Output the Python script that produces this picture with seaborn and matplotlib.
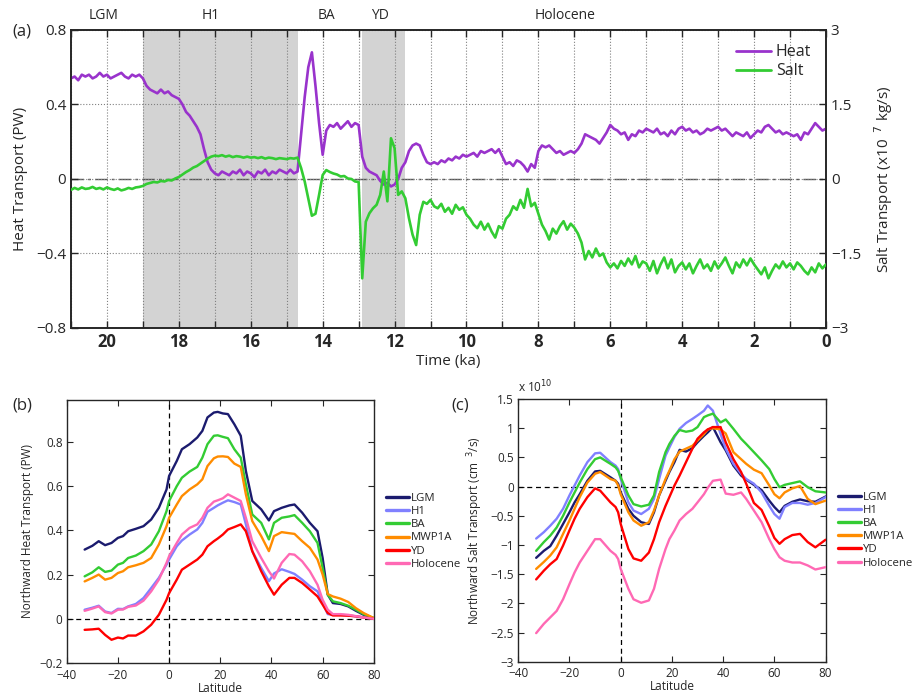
import matplotlib
matplotlib.use("Agg")
import matplotlib.pyplot as plt
from matplotlib.ticker import MultipleLocator
from matplotlib.lines import Line2D
import numpy as np
import pandas as pd
import seaborn as sns

# ---- panel (a): transport time series, 21 ka -> 0 ka, 0.1 ka steps ----
time_ka = np.round(np.arange(210, -1, -1) / 10.0, 1)

heat_pw = [
    0.54, 0.55, 0.53, 0.56, 0.55, 0.56, 0.54, 0.55, 0.57, 0.55,   # 21.0-20.1
    0.56, 0.54, 0.55, 0.56, 0.57, 0.55, 0.54, 0.56, 0.55, 0.56,   # 20.0-19.1
    0.54, 0.50, 0.48, 0.47, 0.46, 0.48, 0.46, 0.47, 0.45, 0.44,   # 19.0-18.1
    0.43, 0.40, 0.36, 0.34, 0.31, 0.28, 0.24, 0.16, 0.09, 0.05,   # 18.0-17.1
    0.03, 0.02, 0.04, 0.03, 0.02, 0.04, 0.03, 0.05, 0.02, 0.04,   # 17.0-16.1
    0.03, 0.01, 0.04, 0.03, 0.05, 0.02, 0.04, 0.03, 0.05, 0.04,   # 16.0-15.1
    0.03, 0.05, 0.03, 0.04, 0.24, 0.44, 0.60, 0.68, 0.50, 0.30,   # 15.0-14.1
    0.13, 0.26, 0.29, 0.28, 0.30, 0.27, 0.29, 0.31, 0.28, 0.30,   # 14.0-13.1
    0.29, 0.12, 0.06, 0.04, 0.03, 0.02, -0.01, -0.03, -0.02, -0.04,  # 13.0-12.1
    -0.03, 0.00, 0.06, 0.09, 0.15, 0.18, 0.19, 0.18, 0.13, 0.09,  # 12.0-11.1
    0.08, 0.09, 0.08, 0.10, 0.09, 0.11, 0.10, 0.12, 0.11, 0.13,   # 11.0-10.1
    0.12, 0.13, 0.14, 0.12, 0.15, 0.14, 0.15, 0.16, 0.14, 0.16,   # 10.0-9.1
    0.12, 0.08, 0.09, 0.07, 0.10, 0.09, 0.07, 0.04, 0.08, 0.06,   # 9.0-8.1
    0.15, 0.18, 0.17, 0.18, 0.16, 0.14, 0.15, 0.13, 0.14, 0.15,   # 8.0-7.1
    0.14, 0.16, 0.19, 0.24, 0.23, 0.22, 0.21, 0.19, 0.22, 0.25,   # 7.0-6.1
    0.29, 0.27, 0.26, 0.24, 0.25, 0.21, 0.24, 0.23, 0.26, 0.25,   # 6.0-5.1
    0.27, 0.26, 0.25, 0.27, 0.24, 0.25, 0.23, 0.26, 0.24, 0.27,   # 5.0-4.1
    0.28, 0.26, 0.27, 0.25, 0.26, 0.24, 0.25, 0.27, 0.26, 0.27,   # 4.0-3.1
    0.28, 0.26, 0.27, 0.25, 0.23, 0.25, 0.24, 0.23, 0.25, 0.22,   # 3.0-2.1
    0.24, 0.26, 0.25, 0.28, 0.29, 0.27, 0.25, 0.26, 0.24, 0.25,   # 2.0-1.1
    0.24, 0.23, 0.24, 0.21, 0.25, 0.24, 0.27, 0.30, 0.28, 0.26,   # 1.0-0.1
    0.27,                                                         # 0.0
]

salt_e7 = [
    -0.22, -0.18, -0.21, -0.17, -0.20, -0.19, -0.16, -0.20, -0.18, -0.21,  # 21.0-20.1
    -0.17, -0.20, -0.22, -0.19, -0.23, -0.21, -0.18, -0.20, -0.17, -0.16,  # 20.0-19.1
    -0.14, -0.10, -0.08, -0.06, -0.07, -0.04, -0.05, -0.02, -0.03, 0.01,   # 19.0-18.1
    0.04, 0.09, 0.14, 0.18, 0.23, 0.26, 0.31, 0.36, 0.41, 0.45,            # 18.0-17.1
    0.47, 0.46, 0.48, 0.45, 0.47, 0.44, 0.46, 0.45, 0.43, 0.45,            # 17.0-16.1
    0.43, 0.44, 0.42, 0.44, 0.41, 0.43, 0.42, 0.40, 0.42, 0.41,            # 16.0-15.1
    0.40, 0.42, 0.41, 0.43, 0.22, -0.05, -0.39, -0.74, -0.70, -0.32,       # 15.0-14.1
    0.08, 0.18, 0.14, 0.11, 0.09, 0.05, 0.06, 0.01, 0.00, -0.05,           # 14.0-13.1
    -0.06, -2.00, -0.86, -0.69, -0.59, -0.52, -0.32, 0.15, -0.45, 0.82,    # 13.0-12.1
    0.62, -0.32, -0.25, -0.39, -0.79, -1.12, -1.33, -0.72, -0.46, -0.50,   # 12.0-11.1
    -0.42, -0.55, -0.59, -0.50, -0.66, -0.58, -0.70, -0.52, -0.62, -0.57,  # 11.0-10.1
    -0.72, -0.80, -0.92, -0.99, -0.86, -1.02, -0.90, -1.06, -1.18, -0.95,  # 10.0-9.1
    -1.00, -0.80, -0.72, -0.55, -0.62, -0.42, -0.58, -0.20, -0.55, -0.48,  # 9.0-8.1
    -0.70, -0.92, -1.05, -1.22, -1.00, -1.10, -0.95, -0.85, -1.02, -0.90,  # 8.0-7.1
    -0.98, -1.10, -1.28, -1.62, -1.45, -1.58, -1.40, -1.55, -1.50, -1.68,  # 7.0-6.1
    -1.78, -1.70, -1.80, -1.65, -1.75, -1.60, -1.72, -1.55, -1.78, -1.66,  # 6.0-5.1
    -1.70, -1.85, -1.65, -1.90, -1.72, -1.58, -1.80, -1.62, -1.88, -1.75,  # 5.0-4.1
    -1.68, -1.82, -1.70, -1.90, -1.75, -1.62, -1.80, -1.72, -1.85, -1.66,  # 4.0-3.1
    -1.80, -1.70, -1.58, -1.75, -1.90, -1.68, -1.78, -1.62, -1.74, -1.60,  # 3.0-2.1
    -1.72, -1.82, -1.92, -1.78, -2.00, -1.85, -1.72, -1.80, -1.66, -1.78,  # 2.0-1.1
    -1.70, -1.82, -1.68, -1.75, -1.85, -1.92, -1.78, -1.88, -1.70, -1.80,  # 1.0-0.1
    -1.72,                                                                 # 0.0
]

period_names = ["LGM", "H1", "BA", "YD", "Holocene"]
period_centers = [20.1, 17.1, 13.9, 12.4, 7.25]
h1_span = (19.0, 14.7)
yd_span = (12.9, 11.7)

# ---- panel (b): northward heat transport (PW) vs latitude ----
lat_b = [-33, -30, -27.5, -25, -22.5, -20, -18, -16, -13, -10,
         -7, -4, -1, 0,
         3, 5, 8, 11, 13, 15, 17.5, 19, 21, 23, 25.5, 28, 30, 32.5,
         36, 39, 41, 44, 47, 49, 52, 55, 58, 60, 62, 64, 67, 70, 73, 76, 80]

lgm_heat = [0.313, 0.33, 0.351, 0.333, 0.343, 0.366, 0.374, 0.396, 0.407, 0.419,
            0.449, 0.502, 0.585, 0.646,
            0.714, 0.767, 0.79, 0.82, 0.85, 0.911, 0.933, 0.936, 0.929, 0.926, 0.88, 0.828, 0.669, 0.533,
            0.495, 0.445, 0.487, 0.502, 0.513, 0.517, 0.48, 0.434, 0.396, 0.275, 0.109, 0.071, 0.067, 0.056, 0.036, 0.018, 0.003]
h1_heat = [0.041, 0.05, 0.059, 0.033, 0.026, 0.045, 0.044, 0.056, 0.067, 0.094,
           0.139, 0.185, 0.245, 0.268,
           0.328, 0.354, 0.381, 0.404, 0.434, 0.484, 0.502, 0.513, 0.525, 0.536, 0.528, 0.517, 0.427, 0.306,
           0.23, 0.17, 0.205, 0.224, 0.212, 0.203, 0.177, 0.147, 0.124, 0.071, 0.021, 0.018, 0.018, 0.015, 0.011, 0.006, 0.0]
ba_heat = [0.192, 0.21, 0.233, 0.212, 0.218, 0.245, 0.253, 0.275, 0.286, 0.306,
           0.336, 0.396, 0.487, 0.533,
           0.60, 0.638, 0.666, 0.687, 0.729, 0.79, 0.828, 0.83, 0.823, 0.817, 0.767, 0.729, 0.608, 0.472,
           0.434, 0.359, 0.434, 0.457, 0.463, 0.469, 0.434, 0.396, 0.343, 0.23, 0.109, 0.079, 0.071, 0.059, 0.041, 0.021, 0.003]
mwp_heat = [0.169, 0.185, 0.2, 0.177, 0.185, 0.207, 0.215, 0.233, 0.242, 0.253,
            0.275, 0.336, 0.419, 0.457,
            0.517, 0.555, 0.585, 0.608, 0.631, 0.691, 0.726, 0.734, 0.735, 0.732, 0.702, 0.687, 0.563, 0.442,
            0.374, 0.306, 0.374, 0.392, 0.387, 0.384, 0.351, 0.321, 0.268, 0.2, 0.112, 0.101, 0.091, 0.076, 0.048, 0.026, 0.003]
yd_heat = [-0.05, -0.048, -0.045, -0.073, -0.095, -0.085, -0.089, -0.076, -0.076, -0.057,
           -0.027, 0.018, 0.086, 0.116,
           0.177, 0.222, 0.245, 0.268, 0.29, 0.328, 0.351, 0.363, 0.381, 0.404, 0.415, 0.427, 0.396, 0.306,
           0.215, 0.147, 0.109, 0.154, 0.185, 0.185, 0.162, 0.132, 0.101, 0.064, 0.026, 0.015, 0.015, 0.014, 0.011, 0.006, 0.0]
hol_heat = [0.036, 0.046, 0.056, 0.03, 0.024, 0.041, 0.042, 0.054, 0.06, 0.082,
            0.124, 0.177, 0.253, 0.283,
            0.343, 0.381, 0.411, 0.427, 0.457, 0.502, 0.53, 0.536, 0.545, 0.563, 0.548, 0.533, 0.457, 0.351,
            0.275, 0.215, 0.182, 0.253, 0.293, 0.29, 0.26, 0.215, 0.154, 0.086, 0.041, 0.021, 0.021, 0.018, 0.012, 0.006, 0.0]

# ---- panel (c): northward salt transport (x1e10 cm^3/s) vs latitude ----
lat_c = [-33, -30, -27.5, -25, -22.5, -20, -18, -16, -13, -10,
         -8, -4, -2, -1, 0,
         3, 5, 8, 11, 13, 15, 17.5, 19, 21, 23, 25.5, 28, 30, 32.5, 34, 36,
         39, 41, 44, 47, 49, 52, 55, 58, 60, 62, 64, 67, 70, 73, 76, 80]

lgm_salt = [-1.22, -1.10, -1.02, -0.84, -0.64, -0.44, -0.27, -0.13, 0.10, 0.26,
            0.27, 0.16, 0.10, 0.05, -0.10,
            -0.38, -0.50, -0.61, -0.64, -0.44, -0.15, 0.10, 0.25, 0.42, 0.63, 0.60, 0.66, 0.76, 0.87, 0.93, 1.02,
            0.76, 0.62, 0.36, 0.19, 0.12, 0.03, -0.06, -0.24, -0.35, -0.44, -0.33, -0.26, -0.22, -0.25, -0.26, -0.17]
h1_salt = [-0.89, -0.78, -0.67, -0.55, -0.38, -0.15, 0.02, 0.19, 0.42, 0.57,
           0.58, 0.42, 0.36, 0.30, 0.13,
           -0.27, -0.41, -0.47, -0.38, -0.21, 0.13, 0.53, 0.67, 0.85, 0.99, 1.09, 1.16, 1.22, 1.30, 1.39, 1.30,
           0.90, 0.65, 0.39, 0.22, 0.13, 0.05, -0.10, -0.33, -0.47, -0.55, -0.35, -0.28, -0.28, -0.31, -0.28, -0.18]
ba_salt = [-1.10, -0.95, -0.84, -0.70, -0.50, -0.27, -0.10, 0.07, 0.30, 0.47,
           0.50, 0.39, 0.33, 0.27, 0.16,
           -0.15, -0.30, -0.34, -0.31, -0.15, 0.25, 0.59, 0.73, 0.87, 0.97, 0.94, 0.96, 1.02, 1.19, 1.22, 1.25,
           1.10, 1.15, 0.99, 0.82, 0.73, 0.59, 0.45, 0.30, 0.13, -0.01, 0.03, 0.06, 0.09, -0.01, -0.08, -0.10]
mwp_salt = [-1.41, -1.29, -1.18, -1.04, -0.81, -0.58, -0.38, -0.18, 0.07, 0.22,
            0.25, 0.13, 0.10, 0.02, -0.13,
            -0.44, -0.58, -0.67, -0.61, -0.41, -0.15, 0.13, 0.27, 0.47, 0.60, 0.65, 0.70, 0.79, 0.90, 0.98, 1.00,
            0.98, 0.91, 0.59, 0.47, 0.39, 0.29, 0.23, 0.02, -0.13, -0.20, -0.10, -0.03, 0.01, -0.21, -0.30, -0.24]
yd_salt = [-1.59, -1.44, -1.33, -1.24, -1.01, -0.75, -0.55, -0.38, -0.18, -0.03,
           -0.07, -0.27, -0.35, -0.44, -0.64,
           -1.07, -1.23, -1.27, -1.13, -0.90, -0.61, -0.33, -0.18, 0.02, 0.19, 0.42, 0.65, 0.82, 0.93, 0.98, 1.02,
           1.02, 0.76, 0.47, 0.25, 0.05, -0.28, -0.40, -0.68, -0.88, -0.98, -0.90, -0.83, -0.81, -0.95, -1.04, -0.91]
hol_salt = [-2.51, -2.35, -2.24, -2.13, -1.93, -1.67, -1.47, -1.30, -1.10, -0.90,
            -0.90, -1.10, -1.17, -1.24, -1.41,
            -1.75, -1.93, -1.99, -1.95, -1.75, -1.41, -1.07, -0.90, -0.75, -0.58, -0.47, -0.38, -0.27, -0.13, -0.02, 0.10,
            0.12, -0.12, -0.14, -0.10, -0.21, -0.41, -0.61, -0.90, -1.07, -1.21, -1.27, -1.30, -1.30, -1.35, -1.42, -1.38]

stage_order = ["LGM", "H1", "BA", "MWP1A", "YD", "Holocene"]
stage_colors = ["#1b1b6e", "#8080ff", "#33cc33", "#ff8c00", "#ff0000", "#ff69b4"]

heat_color = "#9933cc"
salt_color = "#33cc33"

sns.set_style("ticks")
plt.rcParams["font.family"] = ["Open Sans", "DejaVu Sans"]
plt.rcParams["axes.linewidth"] = 1.2

fig = plt.figure(figsize=(9.14, 6.94), dpi=100)

# ================= panel (a) =================
ax = fig.add_axes([0.0777, 0.5274, 0.826, 0.4294])
ax2 = ax.twinx()

for span in (h1_span, yd_span):
    ax.axvspan(span[0], span[1], color="#d3d3d3", lw=0, zorder=0)
ax.axhline(0, color="#555555", lw=1.0, ls=(0, (9, 3, 2, 3)), zorder=1)

sns.lineplot(x=time_ka, y=heat_pw, ax=ax, color=heat_color, lw=1.9,
             estimator=None, legend=False, zorder=3)
sns.lineplot(x=time_ka, y=salt_e7, ax=ax2, color=salt_color, lw=1.9,
             estimator=None, legend=False, zorder=3)

ax.set_xlim(21, 0)
ax.set_ylim(-0.8, 0.8)
ax2.set_ylim(-3, 3)
ax.xaxis.set_major_locator(MultipleLocator(2))
ax.xaxis.set_minor_locator(MultipleLocator(1))
ax.set_xticklabels([f"{v:g}" for v in ax.get_xticks()])
ax.set_yticks([-0.8, -0.4, 0, 0.4, 0.8])
ax.set_yticklabels(["\u22120.8", "\u22120.4", "0", "0.4", "0.8"], fontsize=11)
ax2.set_yticks([-3, -1.5, 0, 1.5, 3])
ax2.set_yticklabels(["\u22123", "\u22121.5", "0", "1.5", "3"], fontsize=11)
ax.set_xlim(21, 0)
for lbl in ax.get_xticklabels():
    lbl.set_fontsize(12)
    lbl.set_fontweight("bold")

ax.grid(which="both", axis="x", ls=":", color="#808080", lw=0.8)
ax.grid(which="major", axis="y", ls=":", color="#808080", lw=0.8)
ax.set_axisbelow("line")
ax.tick_params(which="both", direction="in", top=True, length=5, width=1)
ax2.tick_params(direction="in", length=5, width=1)

ax.set_xlabel("Time (ka)", fontsize=11, labelpad=2)
ax.set_ylabel("Heat Transport (PW)", fontsize=11, labelpad=6)
ax2.set_ylabel("Salt Transport (x10$^{\\ \\ 7}$ kg/s)", fontsize=11, labelpad=8)

for name, xc in zip(period_names, period_centers):
    ax.text(xc, 1.047, name, transform=ax.get_xaxis_transform(),
            ha="center", va="center", fontsize=10)

handles = [Line2D([], [], color=heat_color, lw=2), Line2D([], [], color=salt_color, lw=2)]
ax2.legend(handles, ["Heat", "Salt"], loc="upper right", frameon=False, fontsize=11.5,
           handlelength=2.2, handletextpad=0.3, labelspacing=0.2,
           borderaxespad=0.3, bbox_to_anchor=(0.995, 0.99))

fig.text(0.013, 0.955, "(a)", fontsize=12, va="center")

# ================= panels (b) and (c) =================
heat_df = pd.DataFrame({
    "lat": lat_b * 6,
    "value": lgm_heat + h1_heat + ba_heat + mwp_heat + yd_heat + hol_heat,
    "stage": sum([[s] * len(lat_b) for s in stage_order], []),
})
salt_df = pd.DataFrame({
    "lat": lat_c * 6,
    "value": lgm_salt + h1_salt + ba_salt + mwp_salt + yd_salt + hol_salt,
    "stage": sum([[s] * len(lat_c) for s in stage_order], []),
})
palette = dict(zip(stage_order, stage_colors))

axb = fig.add_axes([0.073, 0.0447, 0.336, 0.379])
axc = fig.add_axes([0.567, 0.0465, 0.3363, 0.3785])

for a, df in ((axb, heat_df), (axc, salt_df)):
    a.axhline(0, color="black", ls="--", lw=0.9, dashes=(4, 3), zorder=1)
    a.axvline(0, color="black", ls="--", lw=0.9, dashes=(4, 3), zorder=1)
    sns.lineplot(data=df, x="lat", y="value", hue="stage", hue_order=stage_order,
                 palette=palette, estimator=None, sort=False, lw=1.7,
                 legend=False, ax=a, zorder=3)
    a.set_xlim(-40, 80)
    a.set_xticks([-40, -20, 0, 20, 40, 60, 80])
    a.set_xticklabels(["\u221240", "\u221220", "0", "20", "40", "60", "80"], fontsize=8.5)
    a.set_xlabel("Latitude", fontsize=8.5, labelpad=0)
    a.tick_params(direction="in", top=True, right=True, length=4, width=0.8)
    a.tick_params(axis="x", pad=4)
    a.tick_params(axis="y", pad=3)
    for s in a.spines.values():
        s.set_linewidth(1.0)
    lh = [Line2D([], [], color=c, lw=2.4) for c in stage_colors]
    a.legend(lh, stage_order, loc="center left", bbox_to_anchor=(1.04, 0.5),
             frameon=False, fontsize=8.2, handlelength=2.0, handletextpad=0.2,
             labelspacing=0.18, borderpad=0, borderaxespad=0)

axb.set_ylim(-0.2, 0.99)
axb.set_yticks([-0.2, 0, 0.2, 0.4, 0.6, 0.8])
axb.set_yticklabels(["\u22120.2", "0", "0.2", "0.4", "0.6", "0.8"], fontsize=8.5)
axb.set_ylabel("Northward Heat Transport (PW)", fontsize=8.5, labelpad=4)

axc.set_ylim(-3, 1.5)
axc.set_yticks([-3, -2.5, -2, -1.5, -1, -0.5, 0, 0.5, 1, 1.5])
axc.set_yticklabels(["\u22123", "\u22122.5", "\u22122", "\u22121.5", "\u22121", "\u22120.5",
                     "0", "0.5", "1", "1.5"], fontsize=8.5)
axc.set_ylabel("Northward Salt Transport (cm$^{\\ \\ 3}$/s)", fontsize=8.5, labelpad=4)
axc.text(0.0, 1.015, "x 10$^{10}$", transform=axc.transAxes, fontsize=8.5, va="bottom")

fig.text(0.013, 0.415, "(b)", fontsize=12, va="center")
fig.text(0.494, 0.415, "(c)", fontsize=12, va="center")

fig.savefig("out.png", dpi=100)
